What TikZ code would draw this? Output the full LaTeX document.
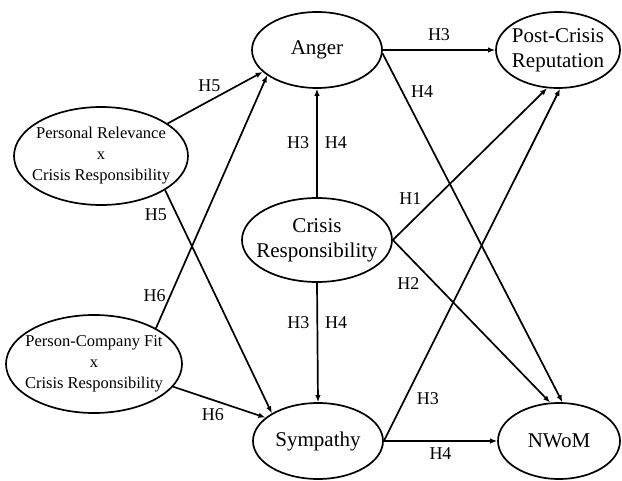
\documentclass[tikz,border=0pt]{standalone}
\usepackage{fontspec}
\setmainfont{Liberation Serif}
\usetikzlibrary{shapes.geometric,arrows.meta}
\newcommand{\Construct}[6]{
	\node[construct, minimum width=#3, minimum height=#4] (#1) at (#2) {};
	\node[#5, align=center] (#1-txt) at (#1.center) {#6};
}

\begin{document}
\begin{tikzpicture}[x=1pt,y=-1pt,
		construct/.style={ellipse, draw, line width=1.7pt, inner sep=0pt},
		big/.style={font=\fontsize{21}{25}\selectfont},
		small/.style={font=\fontsize{16.5}{21}\selectfont},
		link/.style={-{Latex[length=7pt,width=5.5pt]}, line width=1.7pt},
		hyp/.style={font=\fontsize{18}{20}\selectfont, inner sep=2pt}]
		\useasboundingbox (0,0) rectangle (622,481);
		% constructs
		\Construct{anger}{317,50}{130pt}{76pt}{big}{Anger}
		\Construct{pcr}{558,50}{124pt}{76pt}{big}{Post-Crisis\\Reputation}
		\Construct{crisis}{317,240}{150pt}{84pt}{big}{Crisis\\Responsibility}
		\Construct{sympathy}{318,441}{130pt}{76pt}{big}{Sympathy}
		\Construct{nwom}{559,441}{122pt}{76pt}{big}{NWoM}
		\Construct{pr}{101,156}{174pt}{98pt}{small}{Personal Relevance\\x\\Crisis Responsibility}
		\Construct{pcf}{94,364}{176pt}{98pt}{small}{Person-Company Fit\\x\\Crisis Responsibility}
		% paths
		\draw[link] (crisis.north) -- (anger.south)
			node[hyp, midway, left=5pt] (h3a) {H3}
			node[hyp, midway, right=5pt] (h4a) {H4};
		\draw[link] (crisis.south) -- (sympathy.north)
			node[hyp, pos=.33, left=5pt] (h3s) {H3}
			node[hyp, pos=.33, right=5pt] (h4s) {H4};
		\draw[link] (anger.east) -- (pcr.west) node[hyp, midway, above=6pt] (h3b) {H3};
		\draw[link] (anger.-3) -- (nwom.85) node[hyp, pos=.11, right=6pt] (h4b) {H4};
		\draw[link] (crisis.east) -- (pcr.254) node[hyp, pos=.21, above left=1pt] (h1) {H1};
		\draw[link] (crisis.east) -- (nwom.103) node[hyp, pos=.2, below left=2pt] (h2) {H2};
		\draw[link] (sympathy.east) -- (pcr.273) node[hyp, pos=.12, right=9pt] (h3c) {H3};
		\draw[link] (sympathy.east) -- (nwom.west) node[hyp, midway, below=4pt] (h4c) {H4};
		\draw[link] (pr.26) -- (anger.202) node[hyp, pos=.44, above=6pt] (h5a) {H5};
		\draw[link] (pr.332) -- (sympathy.149) node[hyp, pos=.11, left=7pt] (h5b) {H5};
		\draw[link] (pcf.30) -- (anger.207) node[hyp, pos=.13, left=2pt] (h6a) {H6};
		\draw[link] (pcf.344) -- (sympathy.156) node[hyp, pos=.43, below=6pt] (h6b) {H6};
	\end{tikzpicture}
\end{document}
